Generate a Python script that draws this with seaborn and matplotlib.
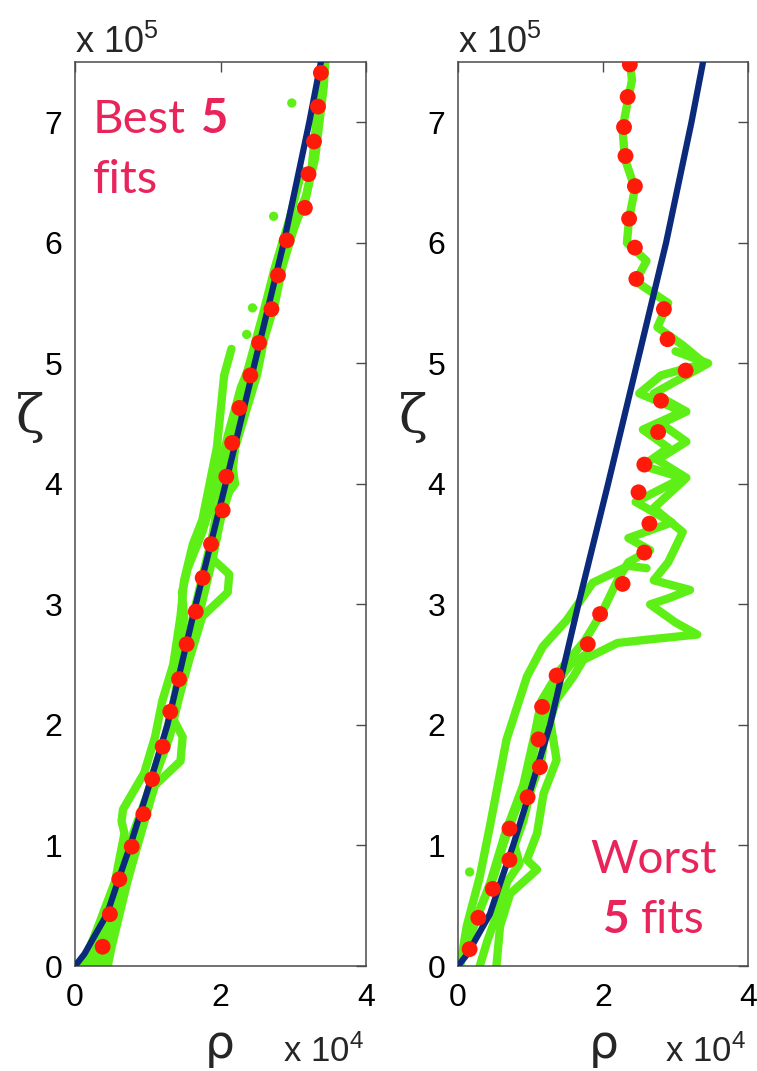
import numpy as np
import pandas as pd
import matplotlib
matplotlib.use("Agg")
import matplotlib.pyplot as plt
import seaborn as sns

# ---------------- data (rho in 1e4, zeta in 1e5) ----------------
# theoretical curve (blue)
fit_zeta = [0, 0.1, 0.25, 0.43, 0.72, 1.0, 1.5, 2.0, 3.0, 4.0, 5.0, 6.0, 7.0, 7.5]
fit_rho = [0, 0.13, 0.27, 0.44, 0.6, 0.76, 1.02, 1.27, 1.66, 2.07, 2.47, 2.87, 3.22, 3.38]

# binned means (red dots)
best_dot_zeta = [0.16, 0.43, 0.72, 0.99, 1.26, 1.55, 1.82, 2.11, 2.38, 2.67, 2.94, 3.22, 3.50, 3.78,
                 4.06, 4.34, 4.63, 4.90, 5.17, 5.45, 5.73, 6.02, 6.29, 6.57, 6.84, 7.13, 7.41]
best_dot_rho = [0.38, 0.48, 0.61, 0.78, 0.94, 1.06, 1.205, 1.31, 1.43, 1.535, 1.66, 1.755, 1.87, 2.03,
                2.08, 2.16, 2.26, 2.41, 2.53, 2.70, 2.79, 2.91, 3.16, 3.21, 3.285, 3.34, 3.38]
worst_dot_zeta = [0.14, 0.40, 0.64, 0.88, 1.14, 1.40, 1.65, 1.88, 2.15, 2.41, 2.67, 2.92, 3.17, 3.43, 3.67,
                  3.93, 4.16, 4.43, 4.69, 4.94, 5.20, 5.45, 5.70, 5.96, 6.20, 6.47, 6.72, 6.96, 7.21, 7.48]
worst_dot_rho = [0.16, 0.28, 0.48, 0.71, 0.71, 0.96, 1.13, 1.11, 1.16, 1.36, 1.79, 1.96, 2.27, 2.57, 2.64,
                 2.49, 2.57, 2.76, 2.80, 3.14, 2.89, 2.84, 2.46, 2.44, 2.36, 2.44, 2.31, 2.29, 2.34, 2.37]

# observed traces (green), best 5 fits
best_t1_zeta = [0, 0.15, 0.4, 0.7, 1.0, 1.3, 1.6, 1.9, 2.2, 2.5, 2.8, 3.1, 3.4, 3.7, 4.0, 4.3, 4.6, 4.9,
                5.2, 5.5, 5.8, 6.1, 6.4, 6.7, 7.0, 7.3, 7.5]
best_t1_rho = [0.45, 0.5, 0.6, 0.72, 0.86, 1.0, 1.12, 1.3, 1.42, 1.55, 1.66, 1.78, 1.9, 2.0, 2.15, 2.2,
               2.35, 2.5, 2.6, 2.75, 2.85, 3.0, 3.18, 3.3, 3.36, 3.42, 3.44]
best_t2_zeta = [0, 0.3, 0.7, 1.1, 1.2, 1.3, 1.6, 1.9, 2.2, 2.5, 2.9, 3.2, 3.5, 3.7, 4.0, 4.3, 4.6, 4.9, 5.12]
best_t2_rho = [0.1, 0.3, 0.55, 0.68, 0.64, 0.66, 0.95, 1.1, 1.2, 1.35, 1.45, 1.5, 1.62, 1.75, 1.85,
               1.95, 2.0, 2.05, 2.15]
best_t3_zeta = [0, 0.5, 1.0, 1.5, 1.7, 1.9, 2.05, 2.3, 2.6, 2.9, 3.1, 3.25, 3.4, 3.8, 4.0, 4.2, 4.6,
                5.0, 5.5, 6.0, 6.3, 6.6, 6.9, 7.2, 7.5]
best_t3_rho = [0.3, 0.55, 0.85, 1.1, 1.45, 1.48, 1.35, 1.45, 1.6, 1.75, 2.1, 2.12, 1.85, 1.95, 2.2,
               2.15, 2.3, 2.45, 2.7, 2.85, 3.15, 3.25, 3.3, 3.35, 3.42]
best_t4_zeta = [0, 0.3, 0.6, 1.0, 1.4, 1.8, 2.2, 2.6, 3.0, 3.4, 3.8, 4.2, 4.6, 5.0, 5.4, 5.8, 6.2, 6.6]
best_t4_rho = [0.2, 0.42, 0.52, 0.74, 0.98, 1.2, 1.36, 1.52, 1.66, 1.82, 1.98, 2.1, 2.22, 2.4, 2.58,
               2.75, 2.95, 3.12]
best_t5_zeta = [0, 0.4, 0.8, 1.2, 1.6, 2.0, 2.4, 2.6, 2.9, 3.1, 3.3, 3.6, 4.0, 4.4, 4.8, 5.2, 5.6]
best_t5_rho = [0.4, 0.58, 0.7, 0.9, 1.08, 1.3, 1.42, 1.45, 1.5, 1.47, 1.55, 1.75, 1.95, 2.1, 2.28,
               2.55, 2.72]
best_spot_zeta = [7.16, 6.22, 5.46, 5.24]
best_spot_rho = [2.98, 2.73, 2.44, 2.36]

# observed traces (green), worst 5 fits
worst_t1_zeta = [0, 0.3, 0.7, 1.1, 1.5, 1.9, 2.2, 2.45, 2.7, 2.95, 3.2, 3.35, 3.45, 3.55, 3.68, 3.85, 4.05,
                 4.15, 4.3, 4.45, 4.6, 4.75, 4.9, 5.0, 5.15, 5.3, 5.5, 5.68, 5.85, 6.0, 6.2, 6.45, 6.7,
                 6.95, 7.2, 7.35, 7.5]
worst_t1_rho = [0, 0.2, 0.45, 0.65, 0.9, 1.05, 1.15, 1.4, 1.75, 2.0, 2.2, 2.35, 2.65, 2.35, 2.95, 2.45,
                3.1, 2.55, 2.9, 2.55, 3.1, 2.5, 2.8, 3.4, 3.1, 2.75, 2.9, 2.45, 2.6, 2.33, 2.36, 2.44,
                2.3, 2.27, 2.35, 2.4, 2.37]
worst_t2_zeta = [0, 0.33, 0.6, 0.8, 0.88, 1.1, 1.43, 1.71, 2.04, 2.21, 2.4, 2.54, 2.68, 2.71, 2.75, 2.85,
                 3.0, 3.05, 3.12, 3.2, 3.35, 3.6, 3.8, 4.05, 4.2, 4.35, 4.5, 4.6, 4.75, 5.0, 5.1]
worst_t2_rho = [0.53, 0.58, 0.72, 1.09, 0.95, 1.09, 1.18, 1.36, 1.27, 1.36, 1.59, 1.73, 2.2, 2.65, 3.3,
                3.0, 2.65, 2.9, 3.2, 2.7, 2.9, 3.1, 2.7, 3.15, 2.75, 3.15, 2.8, 3.15, 2.7, 3.45, 3.0]
worst_t3_zeta = [0, 0.33, 0.74, 1.16, 1.6, 1.88, 2.4, 2.65, 2.87, 3.18, 3.26, 3.32, 3.3]
worst_t3_rho = [0.03, 0.12, 0.3, 0.44, 0.58, 0.67, 0.95, 1.17, 1.5, 1.86, 2.14, 2.35, 2.6]
worst_t4_zeta = [0, 0.4, 0.75, 1.0, 1.3, 1.55, 1.8, 2.1, 2.3, 2.5, 2.6]
worst_t4_rho = [0.0, 0.25, 0.5, 0.62, 0.8, 1.0, 1.05, 1.15, 1.3, 1.55, 1.8]
worst_t5_zeta = [0, 0.2, 0.45, 0.7, 0.85, 1.0, 1.2, 1.45, 1.7, 1.95, 2.2]
worst_t5_rho = [0.3, 0.4, 0.55, 0.68, 0.85, 0.78, 0.9, 1.0, 1.15, 1.2, 1.3]
worst_spot_zeta = [0.78]
worst_spot_rho = [0.16]

x_ticks = [0, 2, 4]
y_ticks = [0, 1, 2, 3, 4, 5, 6, 7]

# ---------------- styling ----------------
GREEN = "#5ef016"
BLUE = "#0c2a7c"
RED = "#ff1a0a"
PINK = "#e8245a"
AXC = "#4a4a4a"

sns.set_theme(style="white")
plt.rcParams["font.family"] = ["Liberation Sans", "DejaVu Sans"]
plt.rcParams["mathtext.fontset"] = "custom"
plt.rcParams["mathtext.rm"] = "Liberation Sans"
plt.rcParams["mathtext.it"] = "Liberation Sans"

W, H = 757, 1071
fig = plt.figure(figsize=(W / 100, H / 100), dpi=100)
fig.patch.set_facecolor("white")


def px_rect(x0, y0, x1, y1):
    return [x0 / W, 1 - y1 / H, (x1 - x0) / W, (y1 - y0) / H]


axL = fig.add_axes(px_rect(75, 62, 366, 966))
axR = fig.add_axes(px_rect(458, 62, 748, 966))


def draw_trace(ax, rho, zeta):
    df = pd.DataFrame({"rho": rho, "zeta": zeta})
    sns.lineplot(data=df, x="rho", y="zeta", sort=False, estimator=None, ax=ax,
                 color=GREEN, lw=6, solid_capstyle="round", solid_joinstyle="round",
                 zorder=2, legend=False)


def draw_common(ax, traces, spots, dots):
    for rho, zeta in traces:
        draw_trace(ax, rho, zeta)
    sdf = pd.DataFrame({"rho": spots[0], "zeta": spots[1]})
    sns.scatterplot(data=sdf, x="rho", y="zeta", ax=ax, color=GREEN, s=45,
                    edgecolor="none", zorder=2, legend=False)
    fdf = pd.DataFrame({"rho": fit_rho, "zeta": fit_zeta})
    sns.lineplot(data=fdf, x="rho", y="zeta", sort=False, estimator=None, ax=ax,
                 color=BLUE, lw=4.5, zorder=3, legend=False)
    ddf = pd.DataFrame({"rho": dots[0], "zeta": dots[1]})
    sns.scatterplot(data=ddf, x="rho", y="zeta", ax=ax, color=RED, s=130,
                    edgecolor="none", zorder=4, legend=False)
    ax.set_xlim(0, 4)
    ax.set_ylim(0, 7.5)
    ax.set_xticks(x_ticks)
    ax.set_yticks(y_ticks)
    ax.set_xticklabels([str(v) for v in x_ticks])
    ax.set_yticklabels([str(v) for v in y_ticks])
    ax.set_xlabel("")
    ax.set_ylabel("")
    ax.tick_params(direction="in", length=7, width=1, color=AXC, top=True, right=True,
                   labelsize=23, labelcolor="black")
    ax.tick_params(axis="y", pad=9)
    ax.tick_params(axis="x", pad=12)
    for sp in ax.spines.values():
        sp.set_visible(True)
        sp.set_color(AXC)
        sp.set_linewidth(1.1)
    ax.set_facecolor("white")


draw_common(axL,
            [(best_t1_rho, best_t1_zeta), (best_t2_rho, best_t2_zeta), (best_t3_rho, best_t3_zeta),
             (best_t4_rho, best_t4_zeta), (best_t5_rho, best_t5_zeta)],
            (best_spot_rho, best_spot_zeta), (best_dot_rho, best_dot_zeta))
draw_common(axR,
            [(worst_t1_rho, worst_t1_zeta), (worst_t2_rho, worst_t2_zeta), (worst_t3_rho, worst_t3_zeta),
             (worst_t4_rho, worst_t4_zeta), (worst_t5_rho, worst_t5_zeta)],
            (worst_spot_rho, worst_spot_zeta), (worst_dot_rho, worst_dot_zeta))

# ---------------- labels ----------------
def ftext(xp, yp, s, **kw):
    fig.text(xp / W, 1 - yp / H, s, **kw)

for x0, x1, lab_x, zeta_x in [(75, 366, 220, 30), (458, 748, 604, 413)]:
    ftext(x0, 53, r"x 10$^{5}$", fontsize=26, ha="left", va="baseline")
    ftext(x1 - 2, 1062, r"x 10$^{4}$", fontsize=25, ha="right", va="baseline")
    ftext(lab_x, 1058, "ρ", fontsize=34, ha="center", va="baseline",
          family=["DejaVu Sans"])
    ftext(zeta_x, 418, "ζ", fontsize=38, ha="center", va="center",
          family=["DejaVu Serif"])

lato = ["Lato", "DejaVu Sans"]
ftext(93, 133, "Best", fontsize=34, color=PINK, ha="left", va="baseline", family=lato)
ftext(228, 133, "5", fontsize=34, color=PINK, ha="right", va="baseline", family=lato,
      fontweight="bold")
ftext(93, 193, "fits", fontsize=34, color=PINK, ha="left", va="baseline", family=lato)
ftext(654, 873, "Worst", fontsize=33, color=PINK, ha="center", va="baseline", family=lato)
ftext(603, 933, "5", fontsize=33, color=PINK, ha="left", va="baseline", family=lato,
      fontweight="bold")
ftext(705, 933, "fits", fontsize=33, color=PINK, ha="right", va="baseline", family=lato)

fig.savefig("out.png", dpi=100, facecolor="white")
